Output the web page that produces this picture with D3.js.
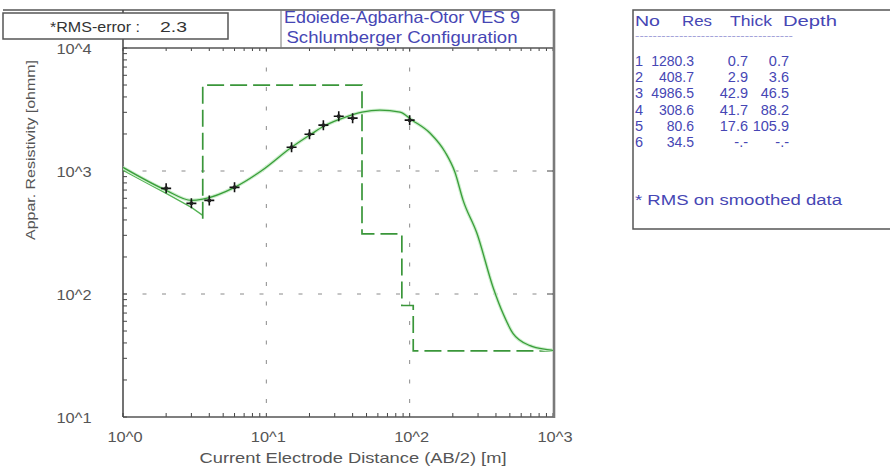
<!DOCTYPE html>
<html><head><meta charset="utf-8">
<script src="https://cdn.jsdelivr.net/npm/d3@7"></script>
<style>html,body{margin:0;padding:0;background:#fff;} svg{display:block;font-family:"Liberation Sans",Arial,sans-serif;}</style>
</head><body><svg id="c" width="890" height="472"></svg>
<script>
// ---------- data ----------
const fieldAB  = [2, 3, 4, 6, 15, 20, 25, 32, 40, 100];
const fieldRho = [723, 546, 577, 736, 1560, 1990, 2360, 2790, 2690, 2590];
const calcAB  = [1, 2, 3, 3.6, 6, 9.2, 15, 20.5, 25.3, 32.7, 46.5, 62, 85.7, 104, 139, 177, 207, 236, 295, 382, 449, 527, 692, 909, 1000];
const calcRho = [1070, 697, 577, 590, 736, 1000, 1560, 1990, 2320, 2638, 3010, 3125, 3010, 2590, 2027, 1420, 976, 577, 310, 113, 69, 47.6, 38, 35.3, 34.8];
const smoothAB  = [1, 2, 3, 3.6];
const smoothRho = [1013, 658, 506, 436];
const layerNo    = ["1", "2", "3", "4", "5", "6"];
const layerRes   = ["1280.3", "408.7", "4986.5", "308.6", "80.6", "34.5"];
const layerThick = ["0.7", "2.9", "42.9", "41.7", "17.6", "-.-"];
const layerDepth = ["0.7", "3.6", "46.5", "88.2", "105.9", "-.-"];
const tableHeader = ["No", "Res", "Thick", "Depth"];
const xTickValues = [1, 10, 100, 1000];
const xTickLabels = ["10^0", "10^1", "10^2", "10^3"];
const yTickValues = [10, 100, 1000, 10000];
const yTickLabels = ["10^1", "10^2", "10^3", "10^4"];
const rmsError = "2.3";
const titleLines = ["Edoiede-Agbarha-Otor VES 9", "Schlumberger Configuration"];
const xTitle = "Current Electrode Distance (AB/2) [m]";
const yTitle = "Appar. Resistivity [ohmm]";
const noteText = "* RMS on smoothed data";

// ---------- layout ----------
const svg = d3.select("#c");
const L = 123, R = 553, T = 48, B = 417;
const x = d3.scaleLog().domain([1, 1000]).range([L, R]);
const y = d3.scaleLog().domain([10, 10000]).range([B, T]);
const grey = "#555", blue = "#4646b4", green = "#3a9e3a";

function txt(parent, s, px, py, o) {
  o = o || {};
  const t = parent.append("text").attr("x", px).attr("y", py).text(s)
    .attr("font-size", o.size || 13.5).attr("fill", o.fill || grey)
    .attr("text-anchor", o.anchor || "start");
  if (o.transform) t.attr("transform", o.transform);
  let w = o.width;
  if (!w && o.stretch) w = t.node().getComputedTextLength() * o.stretch;
  if (w) t.attr("textLength", w).attr("lengthAdjust", "spacingAndGlyphs");
  return t;
}

// clip
svg.append("defs").append("clipPath").attr("id", "pc")
  .append("rect").attr("x", L).attr("y", T).attr("width", R - L).attr("height", B - T);

// grid (dashed)
const grid = svg.append("g").attr("stroke", "#8a8a8a").attr("stroke-width", 1).attr("stroke-dasharray", "4,15.5");
[10, 100].forEach(v => grid.append("line").attr("x1", x(v)).attr("x2", x(v)).attr("y1", T).attr("y2", B));
[100, 1000].forEach(v => grid.append("line").attr("y1", y(v)).attr("y2", y(v)).attr("x1", L).attr("x2", R));

// inner ticks
const tk = svg.append("g").attr("stroke", "#444").attr("stroke-width", 1);
y.ticks().forEach(v => {
  tk.append("line").attr("x1", L).attr("x2", L + 4).attr("y1", y(v)).attr("y2", y(v));
});
x.ticks().forEach(v => {
  tk.append("line").attr("y1", B).attr("y2", B - 4).attr("x1", x(v)).attr("x2", x(v));
  tk.append("line").attr("y1", T).attr("y2", T + 3).attr("x1", x(v)).attr("x2", x(v));
});
[100, 1000].forEach(v => tk.append("line").attr("x1", R).attr("x2", R - 6).attr("y1", y(v)).attr("y2", y(v)));

// frame
const fr = svg.append("g").attr("fill", "none");
fr.append("line").attr("x1", 3).attr("x2", R + 1).attr("y1", 10).attr("y2", 10).attr("stroke", "#555").attr("stroke-width", 1.5);
fr.append("line").attr("x1", L).attr("x2", R).attr("y1", T).attr("y2", T).attr("stroke", "#555").attr("stroke-width", 1.5);
fr.append("line").attr("x1", L).attr("x2", R).attr("y1", B).attr("y2", B).attr("stroke", "#555").attr("stroke-width", 1.5);
fr.append("line").attr("x1", L).attr("x2", L).attr("y1", 10).attr("y2", B).attr("stroke", "#444").attr("stroke-width", 1.5);
fr.append("line").attr("x1", 281).attr("x2", 281).attr("y1", 10).attr("y2", T).attr("stroke", "#777").attr("stroke-width", 1);
fr.append("line").attr("x1", R + 1).attr("x2", R + 1).attr("y1", 9).attr("y2", B + 1).attr("stroke", "#7a7a7a").attr("stroke-width", 2.6);

// RMS box
svg.append("rect").attr("x", 3).attr("y", 13).attr("width", 225).attr("height", 26)
  .attr("fill", "#fff").attr("stroke", "#555").attr("stroke-width", 1.5);
txt(svg, "*RMS-error :", 50, 32, { size: 15, fill: "#333", width: 90 });
txt(svg, rmsError, 160, 32, { size: 15, fill: "#333", width: 27 });

// title
txt(svg, titleLines[0], 402, 23, { size: 16.5, fill: blue, anchor: "middle", width: 236 });
txt(svg, titleLines[1], 402, 43, { size: 16.5, fill: blue, anchor: "middle", width: 231 });

// curves
const plot = svg.append("g").attr("clip-path", "url(#pc)");
const line = d3.line().x(d => x(d[0])).y(d => y(d[1]));
const smooth = smoothAB.map((a, i) => [a, smoothRho[i]]);
plot.append("path").attr("d", line(smooth)).attr("fill", "none").attr("stroke", "#55b455").attr("stroke-width", 1.3);

const depthNum = layerDepth.map(Number);
const resNum = layerRes.map(Number);
const model = [[depthNum[1], resNum[1]]];
for (let i = 2; i < resNum.length; i++) model.push([depthNum[i - 1], resNum[i]]);
model.push([x.domain()[1], resNum[resNum.length - 1]]);
plot.append("path").attr("d", d3.line().x(d => x(d[0])).y(d => y(d[1])).curve(d3.curveStepAfter)(model))
  .attr("fill", "none").attr("stroke", "#3a963a").attr("stroke-width", 1.7).attr("stroke-dasharray", "17,6");

const calc = calcAB.map((a, i) => [a, calcRho[i]]);
plot.append("path").attr("d", line.curve(d3.curveMonotoneX)(calc)).attr("fill", "none")
  .attr("stroke", "#cdeecd").attr("stroke-width", 3.5);
plot.append("path").attr("d", line.curve(d3.curveMonotoneX)(calc)).attr("fill", "none")
  .attr("stroke", green).attr("stroke-width", 1.3);

// field points
const pts = plot.selectAll("g.pt").data(fieldAB.map((a, i) => [a, fieldRho[i]])).join("g")
  .attr("transform", d => `translate(${x(d[0])},${y(d[1])})`);
pts.append("path").attr("d", "M-5,0H5M0,-5V5").attr("stroke", "#111").attr("stroke-width", 1.6);
pts.append("circle").attr("r", 2).attr("fill", "#222");

// tick labels
xTickValues.forEach((v, i) => txt(svg, xTickLabels[i], x(v) + 2, 442, { anchor: "middle", width: 35, size: 14.5 }));
yTickValues.forEach((v, i) => txt(svg, yTickLabels[i], 74, y(v) + 6, { anchor: "middle", width: 35, size: 14.5 }));

// axis titles
txt(svg, xTitle, 353, 463, { anchor: "middle", width: 307, size: 14.5 });
txt(svg, yTitle, 0, 0, { anchor: "middle", width: 180, size: 13.5, transform: "translate(35,150) rotate(-90)" });

// table
const tb = svg.append("g");
tb.append("rect").attr("x", 633).attr("y", 10).attr("width", 300).attr("height", 219)
  .attr("fill", "#fff").attr("stroke", "#555").attr("stroke-width", 1.5);
const hdrX = [635, 682, 730, 783], hdrW = [25, 30, 42, 54];
tableHeader.forEach((h, i) => txt(tb, h, hdrX[i], 26, { fill: blue, size: 15, width: hdrW[i] }));
txt(tb, "------------------------------------", 635, 39, { fill: "#8a8ad0", size: 9, width: 158 });
const rowY = d3.scalePoint().domain(layerNo).range([66, 147]);
layerNo.forEach((n, i) => {
  const yy = rowY(n);
  txt(tb, n, 635, yy, { fill: blue, size: 14.5 });
  txt(tb, layerRes[i], 694, yy, { fill: blue, size: 14 });
  tb.select("text:last-child").attr("text-anchor", "end");
  txt(tb, layerThick[i], 748, yy, { fill: blue, size: 14.5, anchor: "end" });
  txt(tb, layerDepth[i], 789, yy, { fill: blue, size: 14.5, anchor: "end" });
});
txt(tb, noteText, 635, 205, { fill: blue, size: 15.5, width: 207 });
</script></body></html>
